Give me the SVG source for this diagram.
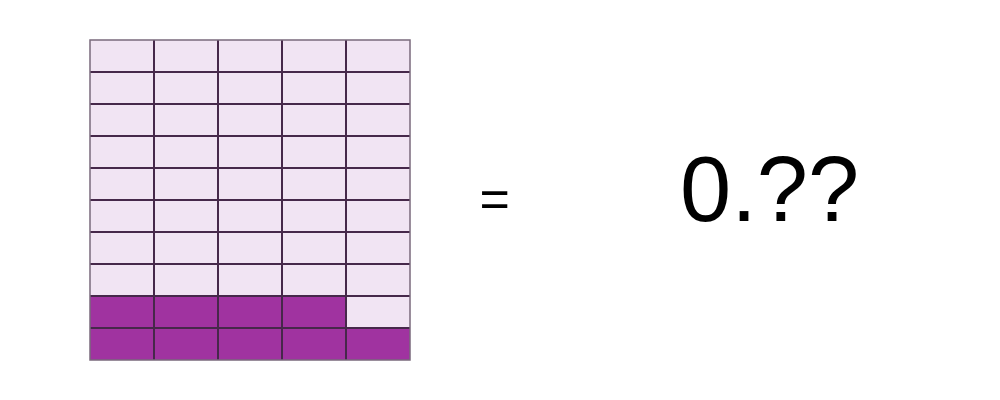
<svg xmlns="http://www.w3.org/2000/svg" width="1000" height="400" viewBox="0 0 1000 400">
<style>
.l{fill:#f1e4f3}
.d{fill:#a033a0}
.g{stroke:#46284a;stroke-width:2;fill:none}
.t{font-family:"Liberation Sans",Arial,sans-serif;fill:#000}
</style>
<rect width="1000" height="400" fill="#fff"/>
<g id="grid">
<rect class="l" x="90" y="40" width="320" height="320"/>
<rect class="d" x="90" y="296" width="256" height="32"/>
<rect class="d" x="90" y="328" width="320" height="32"/>
<path class="g" d="M154 40V360M218 40V360M282 40V360M346 40V360M90 72H410M90 104H410M90 136H410M90 168H410M90 200H410M90 232H410M90 264H410M90 296H410M90 328H410"/>
<rect x="90" y="40" width="320" height="320" fill="none" stroke="#7a6a7c" stroke-width="1.5"/>
</g>
<g id="eq"><text class="t" x="479.5" y="217" font-size="52">=</text></g>
<g id="value"><text class="t" x="680" y="221" font-size="92">0.??</text></g>
</svg>
